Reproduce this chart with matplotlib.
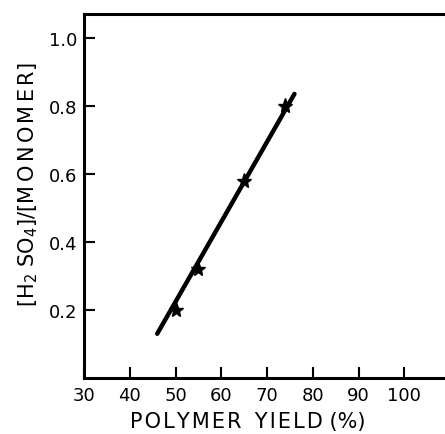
import matplotlib
matplotlib.use('Agg')
import matplotlib.pyplot as plt

# measured points
yield_pct = [50, 55, 65, 74]
ratio = [0.20, 0.32, 0.58, 0.80]

# fitted line as drawn
fit_x = [46, 76]
fit_y = [0.13, 0.835]

x_ticks = [30, 40, 50, 60, 70, 80, 90, 100]
y_ticks = [0.2, 0.4, 0.6, 0.8, 1.0]

plt.rcParams['mathtext.fontset'] = 'dejavusans'

fig = plt.figure(figsize=(4.45, 4.35), dpi=100)
ax = fig.add_axes([84/445, 56/435, 366/445, 364/435])

ax.plot(fit_x, fit_y, color='k', lw=3.2, solid_capstyle='round')
ax.plot(yield_pct, ratio, ls='none', marker='*', ms=11, color='k')

ax.set_xlim(30, 110)
ax.set_ylim(0, 1.07)
ax.set_xticks(x_ticks)
ax.set_yticks(y_ticks)
ax.set_yticklabels(['0.2', '0.4', '0.6', '0.8', '1.0'])

for s in ax.spines.values():
    s.set_linewidth(2.2)
ax.spines['right'].set_visible(False)

ax.tick_params(direction='in', length=8, width=1.5, labelsize=13)
ax.tick_params(axis='y', pad=5)
ax.tick_params(axis='x', pad=6)

hs = '\u200a'
xlab = hs.join('POLYMER') + '  ' + hs.join('YIELD') + ' (%)'
ax.set_xlabel(xlab, fontsize=15)
ax.xaxis.set_label_coords((248-84)/366, -0.118)
ax.xaxis.label.set_va('center')
ax.set_ylabel(r'$\left[\mathrm{H_2\ SO_4}\right]/\left[\mathrm{M\,O\,N\,O\,M\,E\,R}\right]$', fontsize=15)
ax.yaxis.set_label_coords((28-84)/366, 0.533)
ax.yaxis.label.set_va('center')

fig.savefig('out.png', dpi=100)
